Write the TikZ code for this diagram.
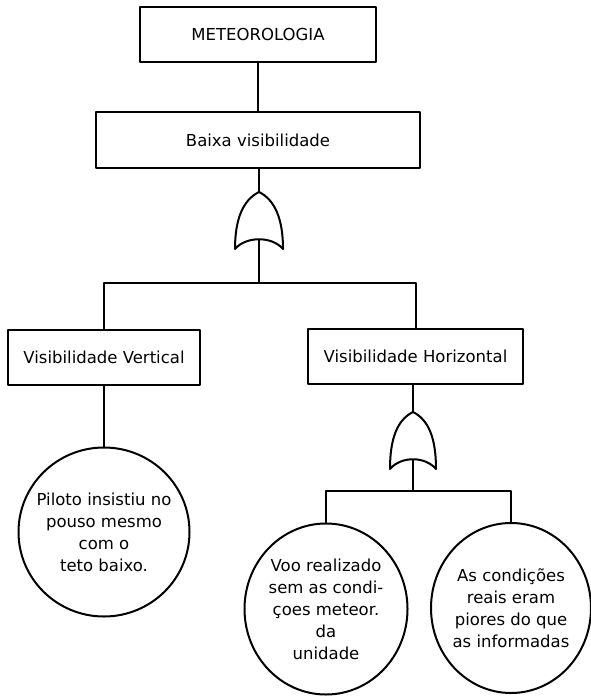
\documentclass[tikz,border=0pt]{standalone}
\usepackage{fontspec}
\setmainfont{DejaVu Sans}
\usetikzlibrary{shapes.geometric}
% OR gate outline drawn inside a (blank) placeholder node
\newcommand{\draworgate}[1]{%
  \draw[gate] (#1.north) .. controls +(16,8) and +(0,-30) .. (#1.south east)
    .. controls +(-11,-13) and +(11,-13) .. (#1.south west)
    .. controls +(0,-30) and +(-16,8) .. (#1.north) -- cycle;}
\begin{document}
\begin{tikzpicture}[x=1pt,y=-1pt,
  line width=2pt, line join=round,
  every node/.style={font=\fontsize{16.5}{22}\selectfont},
  evbox/.style={draw, rectangle, inner sep=0pt, minimum width=#1, minimum height=55pt},
  basic/.style={draw, ellipse, inner xsep=-20pt, inner ysep=0pt, align=center},
  gatebox/.style={rectangle, inner sep=0pt, minimum width=#1, minimum height=55pt},
  gate/.style={draw, fill=white},
  wire/.style={draw}
]
\useasboundingbox (0,0) rectangle (591,698);

% events
\node[evbox=236pt] (met)   at (258,34.5)   {METEOROLOGIA};
\node[evbox=324pt] (baixa) at (258,140)    {Baixa visibilidade};
\node[evbox=192pt] (vv)    at (104,357)    {Visibilidade Vertical};
\node[evbox=215pt] (vh)    at (415.5,356.5) {Visibilidade Horizontal};

% gate placeholders
\node[gatebox=46pt] (g1) at (259,220.5) {};
\node[gatebox=44pt] (g2) at (413,440.5) {};

% basic events
\node[basic, minimum width=171pt, minimum height=169pt] (c1) at (104,532)
  {Piloto insistiu no\\pouso mesmo\\com o\\teto baixo.};
\node[basic, minimum width=163pt, minimum height=171pt] (c2) at (326,609)
  {Voo realizado\\sem as condi-\\çoes meteor.\\da\\unidade};
\node[basic, minimum width=160pt, minimum height=170pt] (c3) at (511,608)
  {As condições\\reais eram\\piores do que\\as informadas};

% junctions
\coordinate (j1) at (259,283);
\coordinate (j2) at (413,491);

% connectors
\draw[wire] (met.south) -- (baixa.north);
\draw[wire] (baixa.south -| g1.north) -- (g1.north);
\draw[wire] (g1.center) -- (j1);
\draw[wire] (vv.north) |- (j1) -| (vh.north);
\draw[wire] (vv.south) -- (c1.north);
\draw[wire] (vh.south -| g2.north) -- (g2.north);
\draw[wire] (g2.center) -- (j2);
\draw[wire] (c2.north) |- (j2) -| (c3.north);

% gates on top of their wires
\draworgate{g1}
\draworgate{g2}
\end{tikzpicture}
\end{document}
